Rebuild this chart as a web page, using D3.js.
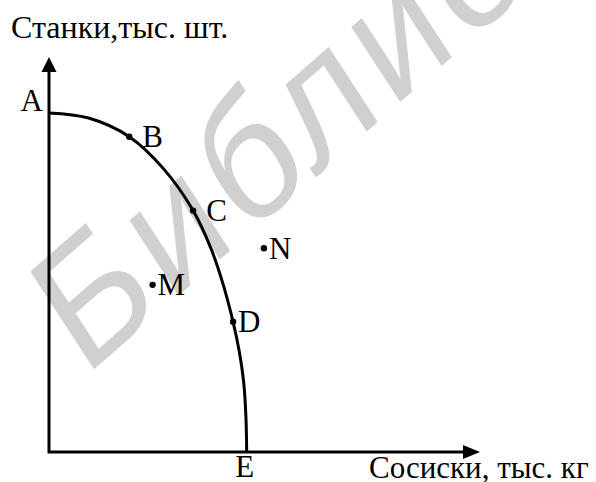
<!DOCTYPE html>
<html>
<head>
<meta charset="utf-8">
<script src="https://cdn.jsdelivr.net/npm/d3@7"></script>
<style>
  body { margin: 0; background: #fff; }
  text { font-family: "Liberation Serif", "Times New Roman", serif; fill: #000; }
</style>
</head>
<body>
<script>
// data (условные единицы, E = 100 по X, A = 100 по Y)
var frontier = [[0,100],[20,98.5],[40.6,93],[58,83.5],[72.9,71.2],[82.2,59.6],
                [88,49.6],[93.1,38.4],[96.1,30.1],[98.5,20.4],[99.6,10.4],[100,0]];
var pointNames = ["B","C","D","M","N"];
var pointX = [40.6, 72.9, 93.1, 52.4, 108.7];
var pointY = [93.0, 71.2, 38.4, 49.3, 60.1];
var yTitle = "Станки,тыс. шт.";
var xTitle = "Сосиски, тыс. кг";
var watermark = "Библио";

var width = 596, height = 482;

var svg = d3.select("body").append("svg")
    .attr("width", width)
    .attr("height", height);

//
//**   Водяной знак   **/
//
svg.append("text")
    .attr("transform", "translate(84,378) scale(0.864,1) rotate(-37)")
    .style("font-family", "'Liberation Sans', Arial, sans-serif")
    .style("font-size", "178px")
    .style("letter-spacing", "8px")
    .style("fill", "#d0d0d0")
    .text(watermark);

//
//**   Оси   **/
//
var x = d3.scaleLinear()
    .domain([0, 218])
    .range([49, 480]);

var y = d3.scaleLinear()
    .domain([0, 116.5])
    .range([452, 57]);

var xEnd = x.domain()[1], yEnd = y.domain()[1];

svg.append("path")
    .attr("d", "M" + x(0) + "," + (y(yEnd) + 12) + "V" + y(0) + "H" + (x(xEnd) - 14))
    .style("fill", "none")
    .style("stroke", "#000")
    .style("stroke-width", 3)
    .style("stroke-linejoin", "miter");

// стрелки
svg.append("path")
    .attr("d", "M" + x(0) + "," + y(yEnd) + "L" + (x(0) - 7.5) + "," + (y(yEnd) + 15) +
               "L" + (x(0) + 7.5) + "," + (y(yEnd) + 15) + "Z")
    .style("fill", "#000");

svg.append("path")
    .attr("d", "M" + x(xEnd) + "," + y(0) + "L" + (x(xEnd) - 17) + "," + (y(0) - 7) +
               "L" + (x(xEnd) - 17) + "," + (y(0) + 7) + "Z")
    .style("fill", "#000");

svg.append("text")
    .attr("x", 11)
    .attr("y", 38)
    .style("font-size", "32px")
    .text(yTitle);

svg.append("text")
    .attr("x", 369)
    .attr("y", 478)
    .style("font-size", "31px")
    .text(xTitle);

//
//**   Кривая производственных возможностей   **/
//
var line = d3.line()
    .x(function (d) { return x(d[0]); })
    .y(function (d) { return y(d[1]); })
    .curve(d3.curveCatmullRom.alpha(0.5));

svg.append("path")
    .datum(frontier)
    .attr("d", line)
    .style("fill", "none")
    .style("stroke", "#000")
    .style("stroke-width", 3);

var first = frontier[0], last = frontier[frontier.length - 1];

svg.append("text")
    .attr("x", x(first[0]) - 6)
    .attr("y", y(first[1]) - 2)
    .style("text-anchor", "end")
    .style("font-size", "31px")
    .text("A");

svg.append("text")
    .attr("x", x(last[0]) - 2)
    .attr("y", 477)
    .style("text-anchor", "middle")
    .style("font-size", "31px")
    .text("E");

//
//**   Точки   **/
//
var labelDx = { B: 13, C: 13 };

var pts = pointNames.map(function (n, i) { return { name: n, x: pointX[i], y: pointY[i] }; });

svg.selectAll("circle.pt").data(pts)
  .enter().append("circle")
    .attr("class", "pt")
    .attr("cx", function (d) { return x(d.x); })
    .attr("cy", function (d) { return y(d.y); })
    .attr("r", 3.2)
    .style("fill", "#000");

svg.selectAll("text.pt").data(pts)
  .enter().append("text")
    .attr("class", "pt")
    .attr("x", function (d) { return x(d.x) + (labelDx[d.name] || 5); })
    .attr("y", function (d) { return y(d.y) + 10.5; })
    .style("font-size", "31px")
    .text(function (d) { return d.name; });
</script>
</body>
</html>
